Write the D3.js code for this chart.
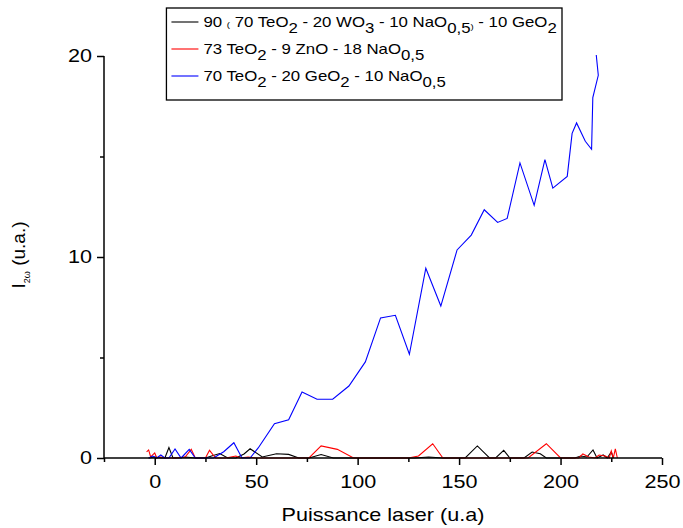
<!DOCTYPE html>
<html><head><meta charset="utf-8">
<script src="https://cdn.jsdelivr.net/npm/d3@7/dist/d3.min.js"></script>
<style>body{margin:0;background:#fff;} svg{display:block;font-family:"Liberation Sans",Arial,sans-serif;}</style>
</head><body>
<svg id="c" width="683" height="528"></svg>
<script>
// Series: x (laser power) and y (I 2ω) values
const blackX = [-3,0,3,5,7,9,12,15,20,25,28,32,36,40,44,47,53,60,66,71,76,82,88,100,110,120,128,135,142,153,159,165,168,172,175,182,186,190,193,200,207,210,213,216,218,221,223,225,226];
const blackY = [0,0.05,0,0,0.52,0,0,0.05,0,0,0.1,0.22,0,0,0.2,0.46,0.05,0.21,0.18,0,0,0.17,0,0,0,0,0,0.05,0,0,0.6,0,0,0.38,0,0,0.3,0.21,0,0,0,0.1,0.05,0.4,0,0.15,0,0.3,0];
const redX = [-4,-3,-2,0,1,3,5,10,15,18,20,25,27,30,35,40,42,46,50,55,60,76,82,90,98,105,110,125,130,137,142,150,160,175,184,193,200,205,209,211,214,217,219,222,224,225,226,227,228];
const redY = [0.3,0.4,0.05,0.25,0,0.05,0,0,0.05,0.43,0,0,0.38,0,0,0.1,0,0.05,0,0,0,0,0.6,0.43,0,0,0,0,0.1,0.71,0,0,0,0,0,0.71,0,0,0,0.2,0.05,0,0.15,0.1,0,0.35,0,0.45,0];
const blueX = [-3,-1,1,3,5,7,10,13,17,20,25,29,34,39,43,47,51,59,66,72.6,80,87.7,95.7,103.8,111.3,118.6,125.5,133.6,141,149,156,162.4,169,173.7,180,187,192.3,196.2,203.3,205.7,207.9,212.2,215.3,215.9,218.6,217.6];
const blueY = [0,0.1,0,0.15,0,0,0.45,0,0.43,0,0,0,0.31,0.76,0,0,0.5,1.71,1.9,3.28,2.92,2.93,3.58,4.78,6.97,7.1,5.16,9.44,7.56,10.35,11.09,12.35,11.72,11.92,14.68,12.57,14.84,13.43,14.01,16.15,16.67,15.76,15.36,17.93,19.04,20.05];
const xTicks = [0,50,100,150,200,250];
const xMinor = [-25,25,75,125,175,225];
const yTicks = [0,10,20];
const yMinor = [5,15];
const xTitle = "Puissance laser (u.a)";

const SX = 1.2; // horizontal stretch of the reference's text
const svg = d3.select("#c");
const x = d3.scaleLinear().domain([-25,250]).range([104,662]);
const y = d3.scaleLinear().domain([0,20]).range([458,56]);

function stretch(sel){
  sel.each(function(){
    const t = d3.select(this);
    const tx = +t.attr("x")||0, ty = +t.attr("y")||0;
    t.attr("x",0).attr("y",0).attr("transform",`translate(${tx},${ty}) scale(${SX},1)`);
  });
}

const line = d3.line().x(d=>x(d[0])).y(d=>y(d[1]));
const series = [
  {xs:blackX, ys:blackY, color:"#000000"},
  {xs:redX, ys:redY, color:"#ff0000"},
  {xs:blueX, ys:blueY, color:"#0000ff"}
];
series.forEach(s=>{
  svg.append("path").datum(s.xs.map((v,i)=>[v,s.ys[i]]))
    .attr("d",line).attr("fill","none").attr("stroke",s.color).attr("stroke-width",1.1);
});

// axes
const xAx = svg.append("g").attr("transform","translate(0,458)")
  .call(d3.axisBottom(x).tickValues(xTicks).tickSize(7).tickPadding(10).tickFormat(d3.format("d")));
svg.append("g").attr("transform","translate(0,458)")
  .call(d3.axisBottom(x).tickValues(xMinor).tickSize(4).tickFormat(""))
  .select(".domain").remove();
const yAx = svg.append("g").attr("transform","translate(104,0)")
  .call(d3.axisLeft(y).tickValues(yTicks).tickSize(7).tickPadding(5).tickFormat(d3.format("d")));
svg.append("g").attr("transform","translate(104,0)")
  .call(d3.axisLeft(y).tickValues(yMinor).tickSize(4).tickFormat(""))
  .select(".domain").remove();
xAx.select(".domain").attr("d","M104,0H662").attr("stroke-width",1.5);
yAx.select(".domain").attr("d","M0,56V458").attr("stroke-width",1.5);
svg.selectAll(".tick line").attr("stroke-width",1.5);
svg.selectAll(".tick text").attr("font-size",18).attr("font-family","Liberation Sans, Arial, sans-serif").attr("fill","#000");
stretch(svg.selectAll(".tick text"));

// axis titles
const xt = svg.append("text").attr("x",383).attr("y",521).attr("text-anchor","middle")
  .attr("font-size",18).text(xTitle);
stretch(xt);
const yl = svg.append("text").attr("transform","translate(25,255) rotate(-90)")
  .attr("text-anchor","middle").attr("font-size",19);
yl.append("tspan").text("I");
yl.append("tspan").attr("font-size",9).attr("dy",5).text("2ω");
yl.append("tspan").attr("dy",-5).text(" (u.a.)");

// legend
const legend = [
  {color:"#000000", parts:[["90 ",0,14],["(",0,8],[" 70 TeO",0,14],["2",6,14],[" - 20 WO",-6,14],["3",6,14],[" - 10 NaO",-6,14],["0,5",6,14],[")",-4,8],[" - 10 GeO",-2,14],["2",6,14]]},
  {color:"#ff0000", parts:[["73 TeO",0,14],["2",6,14],[" - 9 ZnO - 18 NaO",-6,14],["0,5",6,14]]},
  {color:"#0000ff", parts:[["70 TeO",0,14],["2",6,14],[" - 20 GeO",-6,14],["2",6,14],[" - 10 NaO",-6,14],["0,5",6,14]]}
];
const legG = svg.append("g");
const box = legG.append("rect").attr("fill","#fff").attr("stroke","#000").attr("stroke-width",1.3);
const rowsG = legG.append("g");
const texts = [];
legend.forEach((l,i)=>{
  const base = 27 + i*27;
  const g = rowsG.append("g");
  const ln = g.append("line").attr("y1",base-5).attr("y2",base-5).attr("stroke",l.color).attr("stroke-width",1.1);
  const t = g.append("text").attr("font-size",14);
  l.parts.forEach(p=>{ t.append("tspan").attr("dy",p[1]).attr("font-size",p[2]).text(p[0]); });
  texts.push({t, ln, base});
});
// right edge of longest row at 557 (measured after layout)
const w = d3.max(texts, d=>d.t.node().getComputedTextLength()) * SX;
const tx0 = 557 - w;
texts.forEach(d=>{
  d.t.attr("transform",`translate(${tx0},${d.base}) scale(${SX},1)`);
  d.ln.attr("x1",tx0-32).attr("x2",tx0-5);
});
box.attr("x",tx0-37).attr("y",8).attr("width",562-(tx0-37)).attr("height",92);
</script>
</body></html>
